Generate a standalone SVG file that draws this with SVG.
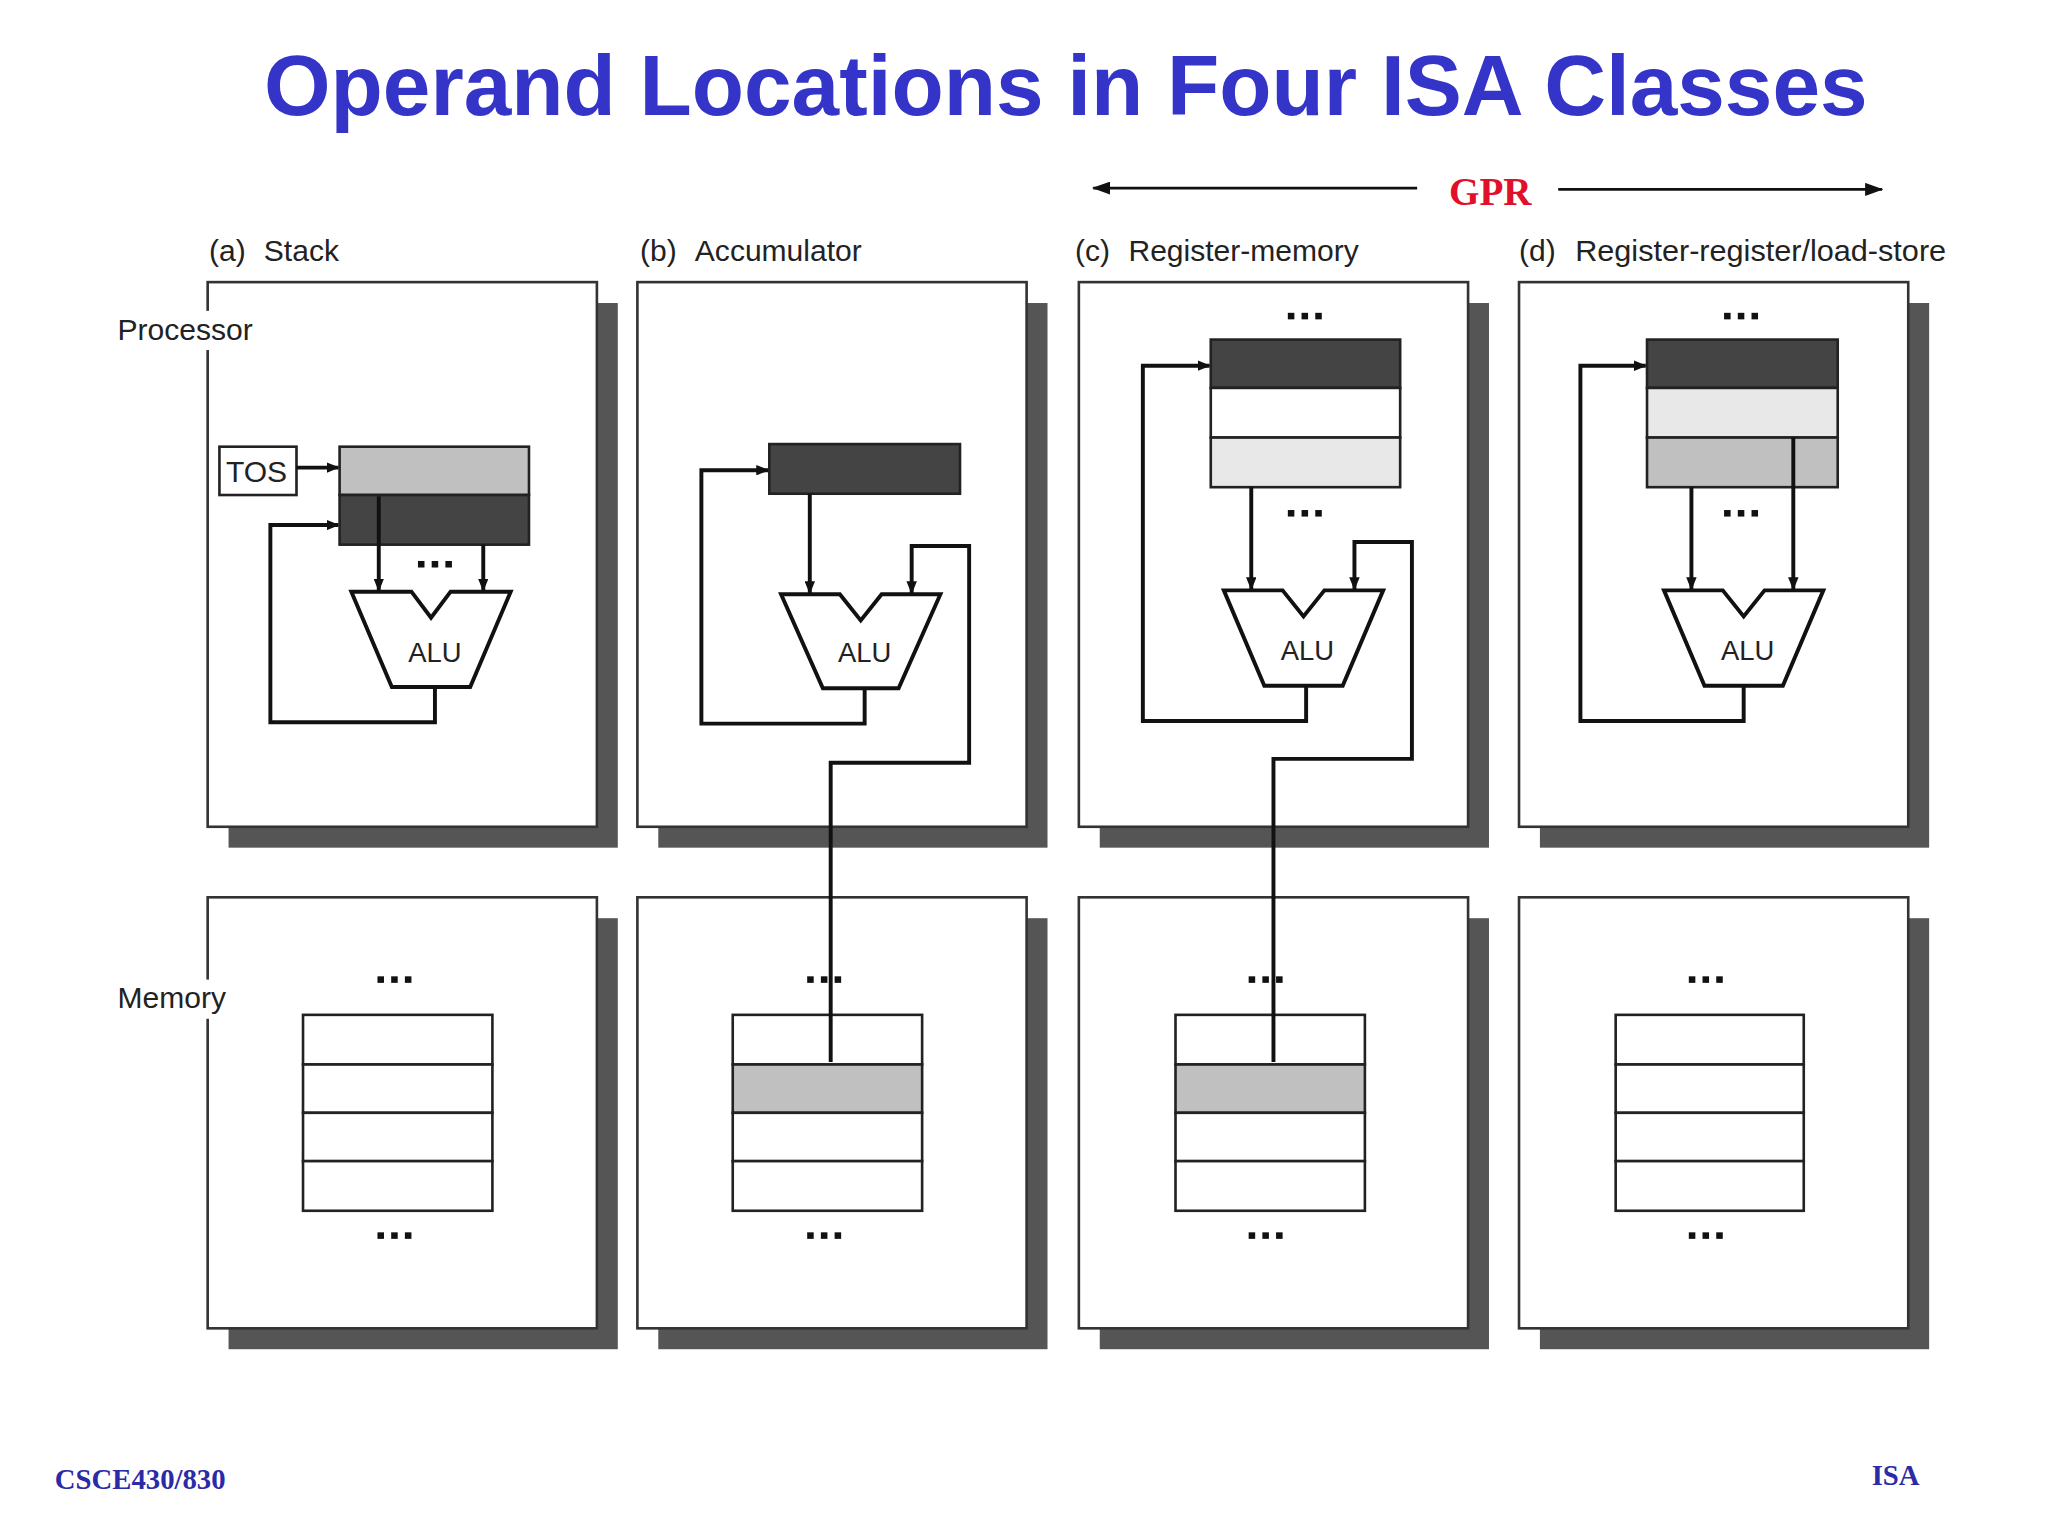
<svg xmlns="http://www.w3.org/2000/svg" xmlns:xlink="http://www.w3.org/1999/xlink" width="2048" height="1536" viewBox="0 0 2048 1536">
<style>
.panel{fill:#fff;stroke:#333;stroke-width:2}
.shadow{fill:#555}
.cell{stroke:#222;stroke-width:2}
.w{fill:#fff}.dk{fill:#444}.lg{fill:#c0c0c0}.xl{fill:#e8e8e8}
.wire{fill:none;stroke:#111;stroke-width:3}
.alu{fill:#fff;stroke:#111;stroke-width:3}
.lbl{font-family:"Liberation Sans",Arial,sans-serif;font-size:23px;fill:#222}
.alut{font-family:"Liberation Sans",Arial,sans-serif;font-size:21px;fill:#222;text-anchor:middle}
</style>
<defs>
<marker id="ah" markerWidth="10" markerHeight="8" refX="9" refY="4" orient="auto" markerUnits="userSpaceOnUse"><path d="M0,0 L10,4 L0,8 z" fill="#111"/></marker>
<marker id="ah2" markerWidth="14" markerHeight="10" refX="13" refY="5" orient="auto" markerUnits="userSpaceOnUse"><path d="M0,0 L14,5 L0,10 z" fill="#111"/></marker>
<g id="dots"><rect x="-13" y="-2.5" width="5" height="5" fill="#111"/><rect x="-2.5" y="-2.5" width="5" height="5" fill="#111"/><rect x="8" y="-2.5" width="5" height="5" fill="#111"/></g>
<g id="ppanel"><rect class="shadow" x="16" y="16" width="298" height="417"/><rect class="panel" x="0" y="0" width="298" height="417"/></g>
<g id="mpanel"><rect class="shadow" x="16" y="16" width="298" height="330"/><rect class="panel" x="0" y="0" width="298" height="330"/></g>
</defs>
<rect width="2048" height="1536" fill="#fff"/>
<g transform="scale(1.30612)">
<text x="816" y="88" text-anchor="middle" font-family="Liberation Sans,Arial,sans-serif" font-weight="bold" font-size="65.5" fill="#3434c8">Operand Locations in Four ISA Classes</text>
<g id="gpr">
<text x="1141" y="157" text-anchor="middle" font-family="Liberation Serif,serif" font-weight="bold" font-size="30" fill="#e0102a">GPR</text>
<line x1="1085" y1="144" x2="837" y2="144" stroke="#111" stroke-width="2" marker-end="url(#ah2)"/>
<line x1="1193" y1="145" x2="1441" y2="145" stroke="#111" stroke-width="2" marker-end="url(#ah2)"/>
</g>
<text class="lbl" x="160" y="200">(a)<tspan x="202">Stack</tspan></text>
<text class="lbl" x="490" y="200">(b)<tspan x="532">Accumulator</tspan></text>
<text class="lbl" x="823" y="200">(c)<tspan x="864">Register-memory</tspan></text>
<text class="lbl" x="1163" y="200">(d)<tspan x="1206" textLength="284" lengthAdjust="spacingAndGlyphs">Register-register/load-store</tspan></text>

<g id="panels">
<use xlink:href="#ppanel" x="159" y="216"/><use xlink:href="#ppanel" x="488" y="216"/><use xlink:href="#ppanel" x="826" y="216"/><use xlink:href="#ppanel" x="1163" y="216"/>
<use xlink:href="#mpanel" x="159" y="687"/><use xlink:href="#mpanel" x="488" y="687"/><use xlink:href="#mpanel" x="826" y="687"/><use xlink:href="#mpanel" x="1163" y="687"/>
</g>
<rect x="150" y="238" width="48" height="30" fill="#fff"/>
<text class="lbl" x="90" y="260">Processor</text>
<rect x="150" y="750" width="26" height="30" fill="#fff"/>
<text class="lbl" x="90" y="772">Memory</text>

<g id="stack-regs">
<rect class="cell" x="168" y="342" width="59" height="37" fill="#fff"/>
<text class="lbl" x="173" y="369">TOS</text>
<rect class="cell lg" x="260" y="342" width="145" height="37"/>
<rect class="cell dk" x="260" y="379" width="145" height="38"/>
<use xlink:href="#dots" x="333" y="432"/>
</g>
<g id="alu-a"><polygon class="alu" points="269,453 315,453 330,473 345,453 391,453 360,526 300,526"/><text class="alut" x="333" y="507">ALU</text></g>
<g id="acc"><rect class="cell dk" x="589" y="340" width="146" height="38"/></g>
<g id="alu-b"><polygon class="alu" points="598,455 643,455 659,475 675,455 720,455 688,527 630,527"/><text class="alut" x="662" y="507">ALU</text></g>
<g id="regs-c">
<use xlink:href="#dots" x="999" y="242"/>
<rect class="cell dk" x="927" y="260" width="145" height="37"/>
<rect class="cell w" x="927" y="297" width="145" height="38"/>
<rect class="cell xl" x="927" y="335" width="145" height="38"/>
<use xlink:href="#dots" x="999" y="393"/>
</g>
<g id="alu-c"><polygon class="alu" points="937,452 982,452 998,472 1014,452 1059,452 1028,525 968,525"/><text class="alut" x="1001" y="505">ALU</text></g>
<g id="regs-d">
<use xlink:href="#dots" x="1333" y="242"/>
<rect class="cell dk" x="1261" y="260" width="146" height="37"/>
<rect class="cell xl" x="1261" y="297" width="146" height="38"/>
<rect class="cell lg" x="1261" y="335" width="146" height="38"/>
<use xlink:href="#dots" x="1333" y="393"/>
</g>
<g id="alu-d"><polygon class="alu" points="1274,452 1319,452 1335,472 1351,452 1396,452 1365,525 1305,525"/><text class="alut" x="1338" y="505">ALU</text></g>

<g id="mem-a"><use xlink:href="#dots" x="302" y="750"/>
<rect class="cell w" x="232" y="777" width="145" height="38"/><rect class="cell w" x="232" y="815" width="145" height="37"/><rect class="cell w" x="232" y="852" width="145" height="37"/><rect class="cell w" x="232" y="889" width="145" height="38"/>
<use xlink:href="#dots" x="302" y="946"/></g>
<g id="mem-b"><use xlink:href="#dots" x="631" y="750"/>
<rect class="cell w" x="561" y="777" width="145" height="38"/><rect class="cell lg" x="561" y="815" width="145" height="37"/><rect class="cell w" x="561" y="852" width="145" height="37"/><rect class="cell w" x="561" y="889" width="145" height="38"/>
<use xlink:href="#dots" x="631" y="946"/></g>
<g id="mem-c"><use xlink:href="#dots" x="969" y="750"/>
<rect class="cell w" x="900" y="777" width="145" height="38"/><rect class="cell lg" x="900" y="815" width="145" height="37"/><rect class="cell w" x="900" y="852" width="145" height="37"/><rect class="cell w" x="900" y="889" width="145" height="38"/>
<use xlink:href="#dots" x="969" y="946"/></g>
<g id="mem-d"><use xlink:href="#dots" x="1306" y="750"/>
<rect class="cell w" x="1237" y="777" width="144" height="38"/><rect class="cell w" x="1237" y="815" width="144" height="37"/><rect class="cell w" x="1237" y="852" width="144" height="37"/><rect class="cell w" x="1237" y="889" width="144" height="38"/>
<use xlink:href="#dots" x="1306" y="946"/></g>

<g id="connectors">
<line class="wire" x1="227" y1="358" x2="259" y2="358" marker-end="url(#ah)"/>
<line class="wire" x1="290" y1="380" x2="290" y2="452" marker-end="url(#ah)"/>
<line class="wire" x1="370" y1="417" x2="370" y2="452" marker-end="url(#ah)"/>
<polyline class="wire" points="333,526 333,553 207,553 207,402 259,402" marker-end="url(#ah)"/>
<line class="wire" x1="620" y1="378" x2="620" y2="454" marker-end="url(#ah)"/>
<polyline class="wire" points="662,527 662,554 537,554 537,360 588,360" marker-end="url(#ah)"/>
<polyline class="wire" points="636,813 636,584 742,584 742,418 698,418 698,454" marker-end="url(#ah)"/>
<line class="wire" x1="958" y1="373" x2="958" y2="451" marker-end="url(#ah)"/>
<polyline class="wire" points="1000,525 1000,552 875,552 875,280 926,280" marker-end="url(#ah)"/>
<polyline class="wire" points="975,813 975,581 1081,581 1081,415 1037,415 1037,451" marker-end="url(#ah)"/>
<line class="wire" x1="1295" y1="373" x2="1295" y2="451" marker-end="url(#ah)"/>
<line class="wire" x1="1373" y1="335" x2="1373" y2="451" marker-end="url(#ah)"/>
<polyline class="wire" points="1335,525 1335,552 1210,552 1210,280 1260,280" marker-end="url(#ah)"/>
</g>

<text x="42" y="1140" font-family="Liberation Serif,serif" font-weight="bold" font-size="22" fill="#2b2ba8">CSCE430/830</text>
<text x="1433" y="1137" font-family="Liberation Serif,serif" font-weight="bold" font-size="22" fill="#2b2ba8">ISA</text>
</g>
</svg>
